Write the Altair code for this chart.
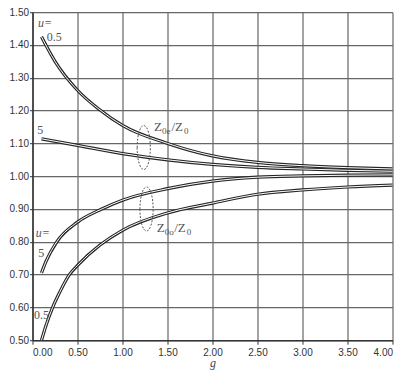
import altair as alt
import pandas as pd

# ---- data ----
g_e05 = [0.1, 0.25, 0.5, 0.75, 1.0, 1.5, 2.0, 2.5, 3.0, 3.5, 4.0]
z_e05 = [1.425, 1.350, 1.262, 1.202, 1.155, 1.100, 1.062, 1.042, 1.032, 1.026, 1.022]

g_e5 = [0.1, 0.5, 1.0, 1.5, 2.0, 2.5, 3.0, 3.5, 4.0]
z_e5 = [1.114, 1.094, 1.069, 1.050, 1.036, 1.027, 1.022, 1.018, 1.015]

g_o5 = [0.1, 0.15, 0.27, 0.5, 0.77, 1.0, 1.5, 2.0, 2.5, 3.0, 3.5, 4.0]
z_o5 = [0.705, 0.740, 0.800, 0.860, 0.900, 0.927, 0.962, 0.985, 0.997, 1.001, 1.003, 1.004]

g_o05 = [0.1, 0.15, 0.224, 0.3, 0.41, 0.5, 0.75, 1.0, 1.5, 2.0, 2.5, 3.0, 3.5, 4.0]
z_o05 = [0.500, 0.545, 0.600, 0.645, 0.700, 0.728, 0.790, 0.835, 0.888, 0.918, 0.945, 0.958, 0.967, 0.973]

x_ticks = [0.0, 0.5, 1.0, 1.5, 2.0, 2.5, 3.0, 3.5, 4.0]
y_ticks = [0.5, 0.6, 0.7, 0.8, 0.9, 1.0, 1.1, 1.2, 1.3, 1.4, 1.5]

# label texts and anchors (g, value)
lab_text = ["u=", "0.5", "5", "u=", "5", "0.5"]
lab_g = [0.06, 0.158, 0.053, 0.036, 0.065, 0.017]
lab_v = [1.468, 1.424, 1.140, 0.827, 0.766, 0.577]
lab_italic = [True, False, False, True, False, False]

ratio_g = [1.35, 1.38]
ratio_v = [1.151, 0.843]
ratio_sub = ["0e", "0o"]

ell_g = [1.236, 1.267]
ell_v = [1.0875, 0.900]

# ---- tables ----
rows = []
for name, gs, zs in [("e05", g_e05, z_e05), ("e5", g_e5, z_e5),
                     ("o5", g_o5, z_o5), ("o05", g_o05, z_o05)]:
    for g, z in zip(gs, zs):
        rows.append({"curve": name, "g": g, "z": z})
curves = pd.DataFrame(rows)

labels = pd.DataFrame({"t": lab_text, "g": lab_g, "z": lab_v, "it": lab_italic})
ratios = pd.DataFrame({"g": ratio_g, "z": ratio_v, "sub": ratio_sub})
ells = pd.DataFrame({"g": ell_g, "z": ell_v})

xs = alt.Scale(domain=[0, 4], nice=False, zero=False)
ys = alt.Scale(domain=[0.5, 1.5], nice=False, zero=False)

X = alt.X("g:Q", scale=xs, title="g",
          axis=alt.Axis(values=x_ticks, format=".2f", labelOverlap=False,
                        titleY=26, titleBaseline="alphabetic"))
Y = alt.Y("z:Q", scale=ys, title=None,
          axis=alt.Axis(values=y_ticks, format=".2f", labelOverlap=False,
                        labelSeparation=0))

outer = alt.Chart(curves).mark_line(color="#262626", strokeWidth=3.2,
                                    interpolate="monotone").encode(detail="curve:N")
inner = alt.Chart(curves).mark_line(color="white", strokeWidth=1.0,
                                    interpolate="monotone").encode(detail="curve:N")

serif = "Liberation Serif"
lab_it = alt.Chart(labels[labels.it]).mark_text(
    align="left", baseline="middle", font=serif, fontStyle="italic",
    fontSize=12, color="#555").encode(text="t:N")
lab_up = alt.Chart(labels[~labels.it]).mark_text(
    align="left", baseline="middle", font=serif,
    fontSize=12, color="#555").encode(text="t:N")

rz1 = alt.Chart(ratios).mark_text(align="left", baseline="middle", font=serif, fontSize=13,
                                  color="#555").encode(text=alt.value("Z"))
rs1 = alt.Chart(ratios).mark_text(align="left", baseline="middle", font=serif, fontSize=9,
                                  color="#555", dx=8, dy=4).encode(text="sub:N")
rz2 = alt.Chart(ratios).mark_text(align="left", baseline="middle", font=serif, fontSize=13,
                                  color="#555", dx=17.5).encode(text=alt.value("/Z"))
rs2 = alt.Chart(ratios).mark_text(align="left", baseline="middle", font=serif, fontSize=9,
                                  color="#555", dx=30, dy=4).encode(text=alt.value("0"))

ell = alt.Chart(ells).mark_point(
    shape="M -0.3 0 A 0.3 1 0 1 0 0.3 0 A 0.3 1 0 1 0 -0.3 0",
    size=1936, filled=False, stroke="#555", strokeWidth=1,
    strokeDash=[2, 1.5], opacity=1)

chart = alt.layer(outer, inner, ell, lab_it, lab_up, rz1, rs1, rz2, rs2).encode(
    x=X, y=Y
).properties(
    width=360, height=328,
    autosize=alt.AutoSizeParams(type="none"),
    padding={"left": 24.5, "top": 4.2, "right": 7, "bottom": 30.5},
).configure_view(stroke=None).configure_axis(
    grid=True, gridColor="#666", gridWidth=1.2, gridOpacity=1,
    domainColor="#333", domainWidth=1.5,
    tickColor="#333", tickSize=4, tickWidth=1,
    labelOverlap=False,
    labelFont="Liberation Sans Narrow, Liberation Sans, Arial", labelFontSize=10,
    labelColor="#333", labelPadding=2,
    titleFont=serif, titleFontStyle="italic", titleFontWeight="normal",
    titleFontSize=12, titleColor="#444",
).configure_axisX(labelPadding=3).configure_axisY(labelPadding=1, tickSize=3)

chart.save("out.html", embed_options={"renderer": "svg", "actions": False})
